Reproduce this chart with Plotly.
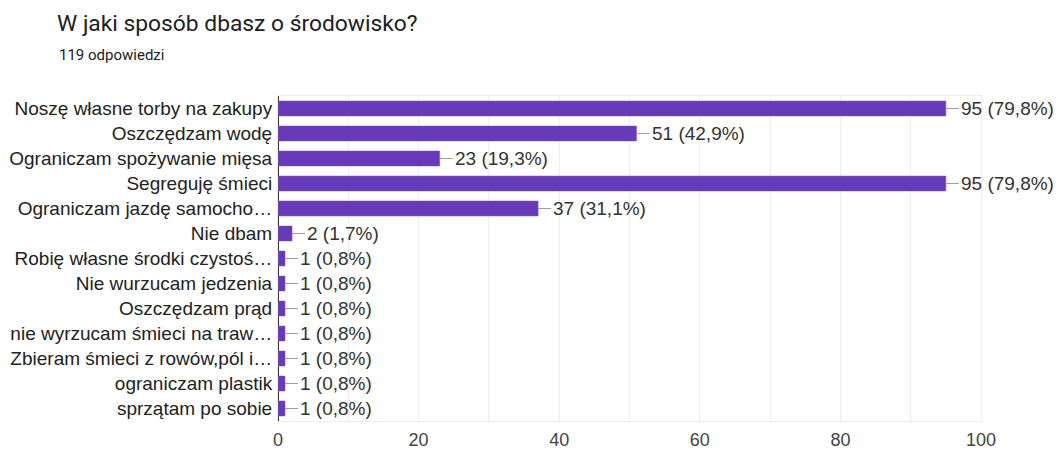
import plotly.graph_objects as go

categories = [
    "Noszę własne torby na zakupy",
    "Oszczędzam wodę",
    "Ograniczam spożywanie mięsa",
    "Segreguję śmieci",
    "Ograniczam jazdę samocho…",
    "Nie dbam",
    "Robię własne środki czystoś…",
    "Nie wurzucam jedzenia",
    "Oszczędzam prąd",
    "nie wyrzucam śmieci na traw…",
    "Zbieram śmieci z rowów,pól i…",
    "ograniczam plastik",
    "sprzątam po sobie",
]
counts = [95, 51, 23, 95, 37, 2, 1, 1, 1, 1, 1, 1, 1]
percents = ["79,8", "42,9", "19,3", "79,8", "31,1", "1,7", "0,8", "0,8", "0,8", "0,8", "0,8", "0,8", "0,8"]
x_ticks = [0, 20, 40, 60, 80, 100]

title_text = "W jaki sposób dbasz o środowisko?"
subtitle_text = "119 odpowiedzi"

W, H = 1059, 452
L, R, T, B = 278, 78, 96, 31

fig = go.Figure()
fig.add_trace(go.Bar(
    x=counts, y=categories, orientation="h",
    marker=dict(color="#673ab7", line=dict(color="#7e57c2", width=0.5)),
    width=0.6, hoverinfo="skip",
))

annotations = []
for c, cat, p in zip(counts, categories, percents):
    annotations.append(dict(
        x=c, y=cat, xref="x", yref="y",
        text=f"{c} ({p}%)", showarrow=True, arrowhead=0, arrowwidth=1,
        arrowcolor="#9e9e9e", ax=13, ay=0, xanchor="left", yanchor="middle",
        standoff=0, startstandoff=0,
        font=dict(family="Liberation Sans, Arial", size=19, color="#333333"),
    ))

annotations.append(dict(
    x=(57 - L) / (W - L - R), y=1 + (T - 55) / (H - T - B),
    xref="paper", yref="paper", xanchor="left", yanchor="middle",
    text=subtitle_text, showarrow=False,
    font=dict(family="Roboto", size=15, color="#202124"),
))

fig.update_layout(
    width=W, height=H,
    margin=dict(l=L, r=R, t=T, b=B, pad=0, autoexpand=False),
    paper_bgcolor="white", plot_bgcolor="white",
    showlegend=False,
    title=dict(
        text=title_text, xref="container", yref="container",
        x=57 / W, y=1 - 23 / H, xanchor="left", yanchor="middle",
        font=dict(family="Roboto", size=22.8, color="#202124"),
    ),
    annotations=annotations,
    xaxis=dict(
        range=[0, 100], tickvals=x_ticks, ticktext=[str(v) for v in x_ticks],
        showgrid=True, gridcolor="#eeeeee", gridwidth=1,
        minor=dict(dtick=10, showgrid=True, gridcolor="#eeeeee", gridwidth=1),
        zeroline=True, zerolinecolor="#333333", zerolinewidth=1.5,
        showline=True, mirror=True, linecolor="#eeeeee", linewidth=1,
        ticks="", ticklabelstandoff=2, automargin=False,
        tickfont=dict(family="Liberation Sans, Arial", size=18, color="#444444"),
        fixedrange=True,
    ),
    yaxis=dict(
        autorange="reversed", showgrid=False, zeroline=False,
        showline=True, mirror=True, linecolor="#eeeeee", linewidth=1,
        ticks="", ticklabelstandoff=1, automargin=False,
        tickfont=dict(family="Liberation Sans, Arial", size=19, color="#222222"),
        fixedrange=True,
    ),
)

fig.write_html("out.html")
